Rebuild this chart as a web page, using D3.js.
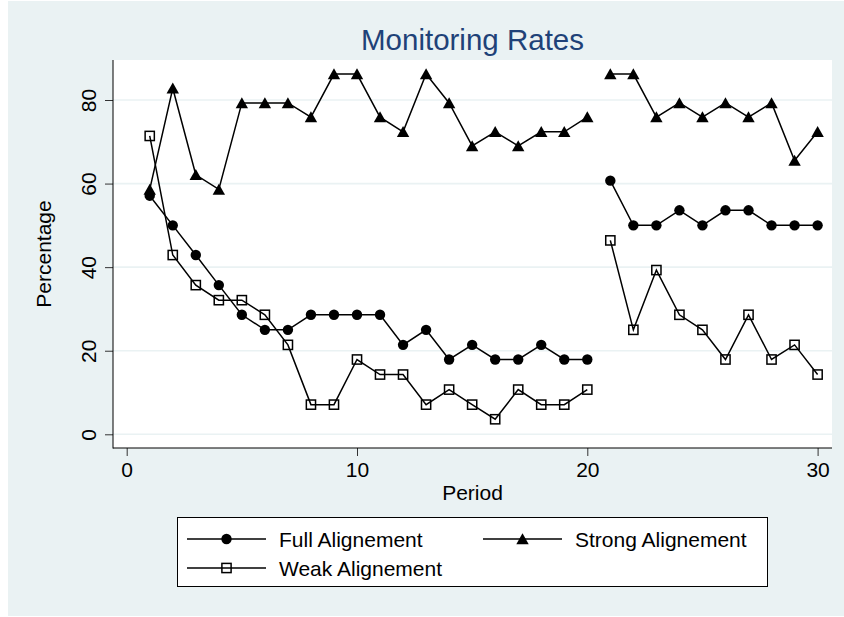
<!DOCTYPE html>
<html>
<head>
<meta charset="utf-8">
<script src="https://cdn.jsdelivr.net/npm/d3@7"></script>
<style>
  html, body { margin: 0; padding: 0; background: #fff; }
  svg { display: block; font-family: "Liberation Sans", Arial, Helvetica, sans-serif; }
</style>
</head>
<body>
<div id="chart"></div>
<script>
// data
const periods = d3.range(1, 31);
const fullAlign = [57.1, 50, 42.9, 35.7, 28.6, 25, 25, 28.6, 28.6, 28.6,
  28.6, 21.4, 25, 17.9, 21.4, 17.9, 17.9, 21.4, 17.9, 17.9,
  60.7, 50, 50, 53.6, 50, 53.6, 53.6, 50, 50, 50];
const strongAlign = [58.6, 82.8, 62.1, 58.6, 79.3, 79.3, 79.3, 75.9, 86.2, 86.2,
  75.9, 72.4, 86.2, 79.3, 69.0, 72.4, 69.0, 72.4, 72.4, 75.9,
  86.2, 86.2, 75.9, 79.3, 75.9, 79.3, 75.9, 79.3, 65.5, 72.4];
const weakAlign = [71.4, 42.9, 35.7, 32.1, 32.1, 28.6, 21.4, 7.1, 7.1, 17.9,
  14.3, 14.3, 7.1, 10.7, 7.1, 3.6, 10.7, 7.1, 7.1, 10.7,
  46.4, 25, 39.3, 28.6, 25, 17.9, 28.6, 17.9, 21.4, 14.3];
// the two blocks of periods are not joined
const blocks = [[1, 20], [21, 30]];
const xTicks = [0, 10, 20, 30];
const yTicks = [0, 20, 40, 60, 80];
const seriesNames = ["Full Alignement", "Strong Alignement", "Weak Alignement"];

const W = 844, H = 617;
const bg = "#eaf2f3";
const fs = 21;
const plot = { left: 113, right: 832, top: 60, bottom: 448 };

const svg = d3.select("#chart").append("svg")
  .attr("width", W).attr("height", H);

svg.append("rect").attr("x", 8).attr("y", 1)
  .attr("width", W - 8).attr("height", 615).attr("fill", bg);
svg.append("rect")
  .attr("x", plot.left).attr("y", plot.top)
  .attr("width", plot.right - plot.left).attr("height", plot.bottom - plot.top)
  .attr("fill", "#fff");

const x = d3.scaleLinear().domain([0, 30]).range([126.7, 817.6]);
const y = d3.scaleLinear().domain([0, 80]).range([434.3, 100]);

// gridlines
svg.append("g").selectAll("line").data(yTicks).enter().append("line")
  .attr("x1", plot.left).attr("x2", plot.right)
  .attr("y1", d => y(d)).attr("y2", d => y(d))
  .attr("stroke", bg).attr("stroke-width", 1.6);

// axes
const yAxis = svg.append("g")
  .attr("transform", "translate(" + plot.left + ",0)")
  .call(d3.axisLeft(y).tickValues(yTicks).tickSize(8).tickPadding(6));
yAxis.select(".domain").remove();
yAxis.append("line").attr("x1", 0).attr("x2", 0)
  .attr("y1", plot.top).attr("y2", plot.bottom + 0.5).attr("stroke", "#000");
yAxis.selectAll(".tick line").attr("stroke", "#333");
yAxis.selectAll(".tick text")
  .attr("font-size", fs).attr("fill", "#000")
  .attr("transform", "rotate(-90)")
  .attr("x", 0).attr("y", -17).attr("dy", 0)
  .attr("text-anchor", "middle");

const xAxis = svg.append("g")
  .attr("transform", "translate(0," + plot.bottom + ")")
  .call(d3.axisBottom(x).tickValues(xTicks).tickSize(8).tickPadding(6));
xAxis.select(".domain").remove();
xAxis.append("line").attr("x1", plot.left).attr("x2", plot.right)
  .attr("y1", 0).attr("y2", 0).attr("stroke", "#000");
xAxis.selectAll(".tick line").attr("stroke", "#333");
xAxis.selectAll(".tick text")
  .attr("font-size", fs).attr("fill", "#000")
  .attr("y", 29).attr("dy", 0);

// titles
svg.append("text").attr("x", (plot.left + plot.right) / 2).attr("y", 50)
  .attr("text-anchor", "middle").attr("font-size", 29.5).attr("fill", "#1f4278")
  .text("Monitoring Rates");
svg.append("text").attr("x", (plot.left + plot.right) / 2).attr("y", 500)
  .attr("text-anchor", "middle").attr("font-size", fs).text("Period");
svg.append("text")
  .attr("transform", "translate(51," + (plot.top + plot.bottom) / 2 + ") rotate(-90)")
  .attr("text-anchor", "middle").attr("font-size", fs).text("Percentage");

// series
const series = [
  { name: seriesNames[0], values: fullAlign, shape: "circle" },
  { name: seriesNames[1], values: strongAlign, shape: "triangle" },
  { name: seriesNames[2], values: weakAlign, shape: "square" }
];

const line = d3.line().x(d => x(d.p)).y(d => y(d.v));

function drawMarker(g, shape, cx, cy) {
  if (shape === "circle") {
    g.append("circle").attr("cx", cx).attr("cy", cy).attr("r", 5.2).attr("fill", "#000");
  } else if (shape === "triangle") {
    g.append("path")
      .attr("d", "M" + cx + "," + (cy - 5.8) + "L" + (cx + 6.2) + "," + (cy + 5.2) + "L" + (cx - 6.2) + "," + (cy + 5.2) + "Z")
      .attr("fill", "#000");
  } else {
    g.append("rect").attr("x", cx - 4.6).attr("y", cy - 4.6)
      .attr("width", 9.2).attr("height", 9.2)
      .attr("fill", "none").attr("stroke", "#000").attr("stroke-width", 1.5);
  }
}

series.forEach(s => {
  const pts = periods.map((p, i) => ({ p: p, v: s.values[i] }));
  const g = svg.append("g");
  blocks.forEach(b => {
    g.append("path")
      .datum(pts.filter(d => d.p >= b[0] && d.p <= b[1]))
      .attr("d", line)
      .attr("fill", "none").attr("stroke", "#000").attr("stroke-width", 1.5);
  });
  pts.forEach(d => drawMarker(g, s.shape, x(d.p), y(d.v)));
});

// legend
const leg = svg.append("g");
leg.append("rect").attr("x", 177.5).attr("y", 517.5)
  .attr("width", 590).attr("height", 69)
  .attr("fill", "#fff").attr("stroke", "#000").attr("stroke-width", 1);
const legPos = [
  { x: 187, y: 539 },
  { x: 483, y: 539 },
  { x: 187, y: 568 }
];
series.forEach((s, i) => {
  const p = legPos[i];
  leg.append("line").attr("x1", p.x).attr("x2", p.x + 79)
    .attr("y1", p.y).attr("y2", p.y).attr("stroke", "#000").attr("stroke-width", 1.5);
  drawMarker(leg, s.shape, p.x + 39.5, p.y);
  leg.append("text").attr("x", p.x + 92).attr("y", p.y + 7.5)
    .attr("font-size", fs).text(s.name);
});
</script>
</body>
</html>
